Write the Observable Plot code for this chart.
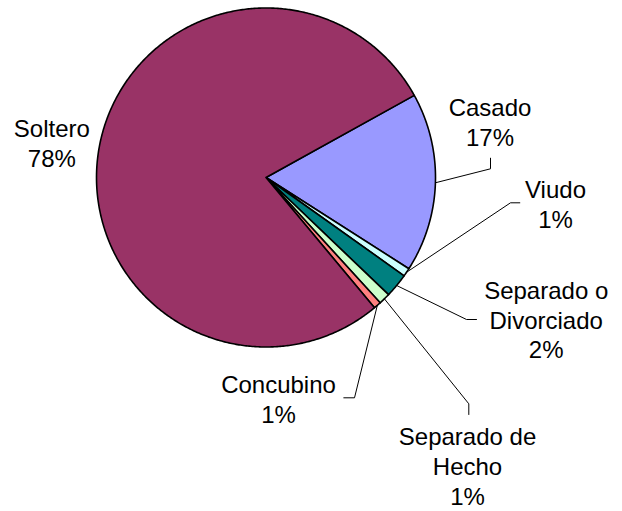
<!DOCTYPE html>
<html>
<head>
<meta charset="utf-8">
<script src="https://cdn.jsdelivr.net/npm/d3@7"></script>
<script src="https://cdn.jsdelivr.net/npm/@observablehq/plot@0.6"></script>
<style>
  html, body { margin: 0; padding: 0; background: #fff; }
  #chart svg { display: block; }
</style>
</head>
<body>
<div id="chart"></div>
<script>
// ---- data (clockwise order, starting from the Soltero/Casado boundary) ----
const categories = ["Casado", "Viudo", "Separado o Divorciado", "Separado de Hecho", "Concubino", "Soltero"];
const values     = [17.1, 0.8, 2.3, 1.1, 0.7, 78.0];
const pctLabels  = ["17%", "1%", "2%", "1%", "1%", "78%"];
const labelLines = ["Casado", "Viudo", "Separado o\nDivorciado", "Separado de\nHecho", "Concubino", "Soltero"];
const colors     = ["#9999FF", "#CCFFFF", "#008080", "#CCFFCC", "#FF8080", "#993366"];

// ---- layout ----
const W = 622, H = 511;
const cx = 265.5, cy = 177, R = 169.5;
const startDeg = 61;
// label block centre and leader elbow/end points (pixel space)
const labelLayout = [
  {x: 489.5, y: 121,   elbow: [490, 168.3], end: [490, 157.7]},
  {x: 555,   y: 202.6, elbow: [510, 202.3], end: [519.3, 202.3]},
  {x: 545.7, y: 318.4, elbow: [466, 319],   end: [476, 319]},
  {x: 467,   y: 465,   elbow: [468.3, 403.3], end: [468.3, 414]},
  {x: 278,   y: 398.1, elbow: [354, 397.3], end: [343.3, 397.3]},
  {x: 51.3,  y: 141.5, elbow: null, end: null}
];

const rows = categories.map((c, i) => ({key: c, value: values[i], color: colors[i],
  label: labelLines[i] + "\n" + pctLabels[i], ...labelLayout[i]}));

const pie = d3.pie().value(d => d.value).sort(null)
  .startAngle(startDeg * Math.PI / 180)
  .endAngle(startDeg * Math.PI / 180 + 2 * Math.PI);
const arcs = pie(rows);

const px = (a, r) => cx + r * Math.sin(a);
const py = (a, r) => cy - r * Math.cos(a);

// slice outlines as polygons
const slicePts = [];
arcs.forEach(a => {
  const k = a.data.key, col = a.data.color;
  slicePts.push({k, col, x: cx, y: cy});
  const n = Math.max(2, Math.ceil((a.endAngle - a.startAngle) / (Math.PI / 360)));
  for (let j = 0; j <= n; j++) {
    const t = a.startAngle + (a.endAngle - a.startAngle) * j / n;
    slicePts.push({k, col, x: px(t, R), y: py(t, R)});
  }
  slicePts.push({k, col, x: cx, y: cy});
});

// leader lines from slice mid-angle to label
const leaderPts = [];
arcs.forEach(a => {
  const d = a.data;
  if (!d.elbow) return;
  const m = (a.startAngle + a.endAngle) / 2;
  leaderPts.push({k: d.key, x: px(m, R), y: py(m, R)});
  leaderPts.push({k: d.key, x: d.elbow[0], y: d.elbow[1]});
  leaderPts.push({k: d.key, x: d.end[0], y: d.end[1]});
});

const chart = Plot.plot({
  width: W, height: H,
  margin: 0,
  x: {domain: [0, W], range: [0, W], axis: null},
  y: {domain: [0, H], range: [0, H], axis: null},
  color: {type: "identity"},
  style: {fontFamily: "'Liberation Sans', Arial, sans-serif", background: "#fff"},
  marks: [
    Plot.line(slicePts, {x: "x", y: "y", z: "k", fill: "col", stroke: "#000",
      strokeWidth: 1.6, strokeLinejoin: "round"}),
    Plot.line(leaderPts, {x: "x", y: "y", z: "k", stroke: "#000", strokeWidth: 1}),
    Plot.text(rows, {x: "x", y: "y", text: "label", fontSize: 24, lineHeight: 1.25,
      textAnchor: "middle", fill: "#000"})
  ]
});
document.getElementById("chart").appendChild(chart);
</script>
</body>
</html>
